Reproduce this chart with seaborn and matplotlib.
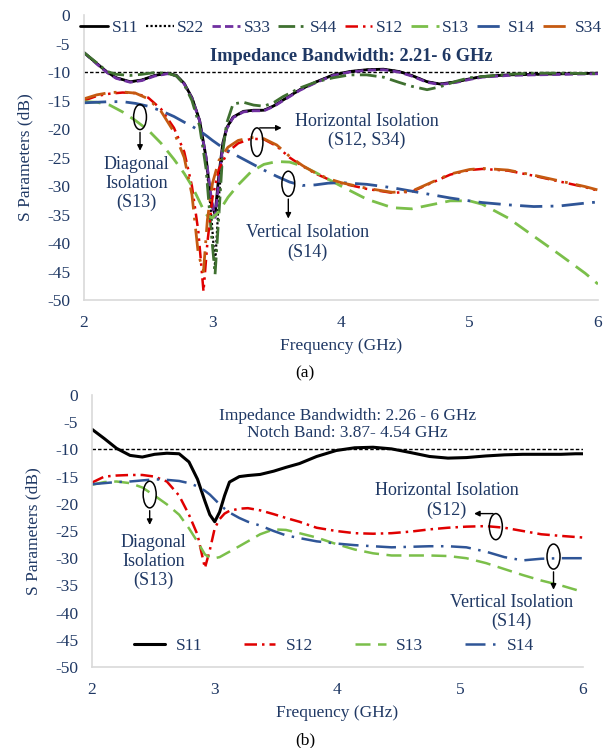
import matplotlib
matplotlib.use("Agg")
import matplotlib.pyplot as plt
from matplotlib.patches import Ellipse
import pandas as pd
import seaborn as sns

# ---------------- (a) four-port array ----------------
freq_a_refl = [2.0, 2.1, 2.18, 2.25, 2.36, 2.45, 2.55, 2.65, 2.72, 2.78, 2.84, 2.9, 2.95,
               2.99, 3.02, 3.05, 3.08, 3.11, 3.16, 3.24, 3.32, 3.4, 3.48, 3.55, 3.68, 3.81,
               3.94, 4.07, 4.2, 4.33, 4.45, 4.55, 4.67, 4.77, 4.9, 5.0, 5.1, 5.3, 5.5, 5.75, 6.0]
s11_a = [-6.6, -8.5, -10.0, -11.0, -11.7, -11.4, -10.6, -10.2, -10.6, -12.0, -14.5, -18.5, -25.0,
         -33.0, -35.0, -28.0, -22.5, -19.8, -17.9, -16.9, -16.7, -16.7, -15.9, -14.9, -13.1, -11.7,
         -10.5, -9.9, -9.6, -9.5, -9.9, -10.6, -11.7, -12.1, -11.7, -11.2, -10.8, -10.5, -10.4, -10.3, -10.2]
s22_a = [-6.6, -8.5, -10.0, -11.0, -11.7, -11.4, -10.6, -10.2, -10.6, -12.0, -14.5, -18.5, -25.5,
         -35.0, -44.0, -32.0, -23.5, -20.0, -18.0, -17.0, -16.7, -16.7, -15.9, -14.9, -13.1, -11.7,
         -10.5, -9.9, -9.6, -9.5, -9.9, -10.6, -11.7, -12.1, -11.7, -11.2, -10.8, -10.5, -10.4, -10.3, -10.2]
s33_a = [-6.6, -8.6, -10.1, -11.1, -11.8, -11.5, -10.7, -10.3, -10.7, -12.1, -14.6, -18.6, -25.0,
         -32.0, -35.5, -29.0, -23.0, -20.0, -18.0, -17.0, -16.8, -16.8, -16.0, -15.0, -13.2, -11.8,
         -10.6, -10.0, -9.7, -9.6, -10.0, -10.7, -11.8, -12.2, -11.8, -11.3, -10.9, -10.6, -10.5, -10.4, -10.3]
s44_a = [-6.6, -8.4, -9.9, -10.4, -10.6, -10.4, -10.1, -10.2, -10.7, -12.2, -15.0, -19.5, -27.0,
         -38.0, -45.5, -35.0, -24.0, -19.0, -15.6, -15.3, -15.8, -16.0, -15.3, -14.3, -12.8, -11.7,
         -11.0, -10.5, -10.5, -10.9, -11.8, -12.5, -13.1, -12.6, -11.6, -11.0, -10.8, -10.4, -10.2, -10.2, -10.3]

freq_a_iso = [2.0, 2.1, 2.2, 2.3, 2.4, 2.5, 2.6, 2.7, 2.78, 2.84, 2.89, 2.93, 2.96, 3.0, 3.05,
              3.12, 3.2, 3.3, 3.4, 3.5, 3.6, 3.7, 3.8, 3.9, 4.0, 4.2, 4.4, 4.55, 4.7, 4.85, 5.0,
              5.1, 5.3, 5.5, 5.7, 5.9, 6.0]
s12_a = [-15.0, -14.2, -13.8, -13.6, -13.7, -14.5, -16.5, -19.8, -24.0, -30.0, -38.0, -48.5, -40.0,
         -32.0, -27.0, -24.0, -22.5, -21.7, -21.8, -23.0, -25.0, -26.5, -27.8, -28.8, -29.5, -30.5,
         -31.2, -31.0, -29.5, -28.0, -27.2, -27.0, -27.3, -28.2, -29.2, -30.2, -30.8]
s34_a = [-14.7, -14.0, -13.6, -13.5, -13.7, -14.7, -16.9, -20.5, -25.0, -31.5, -42.0, -45.0, -36.0,
         -29.5, -25.5, -23.2, -22.0, -21.5, -21.7, -22.8, -24.8, -26.4, -27.7, -28.7, -29.4, -30.4,
         -31.1, -30.9, -29.4, -27.9, -27.1, -26.9, -27.2, -28.1, -29.1, -30.1, -30.7]
s13_a = [-15.2, -15.3, -15.8, -17.0, -18.5, -20.2, -22.5, -25.3, -27.8, -30.0, -32.3, -34.2, -35.2,
         -35.6, -34.5, -32.0, -29.8, -27.5, -26.2, -25.7, -25.8, -26.5, -27.6, -28.8, -30.0, -32.3,
         -33.8, -34.0, -33.3, -32.6, -32.6, -33.2, -35.6, -38.8, -42.0, -45.3, -47.2]
s14_a = [-15.4, -15.3, -15.2, -15.2, -15.5, -16.0, -16.8, -17.8, -18.8, -19.5, -20.2, -20.8, -21.3,
         -22.0, -22.8, -23.8, -24.8, -26.0, -27.2, -28.3, -29.3, -29.9, -29.8, -29.5, -29.4, -29.7,
         -30.3, -30.9, -31.5, -32.1, -32.6, -32.9, -33.3, -33.6, -33.5, -33.0, -32.8]

# ---------------- (b) notched version ----------------
freq_b = [2.0, 2.1, 2.2, 2.31, 2.41, 2.51, 2.61, 2.71, 2.79, 2.86, 2.92, 2.96, 3.0, 3.04, 3.08,
          3.12, 3.2, 3.27, 3.37, 3.48, 3.58, 3.69, 3.83, 3.99, 4.14, 4.29, 4.44, 4.6, 4.75, 4.9,
          5.05, 5.21, 5.36, 5.51, 5.66, 5.82, 5.94, 6.0]
s11_b = [-6.3, -8.0, -9.8, -11.1, -11.4, -10.9, -10.7, -10.8, -12.3, -15.5, -19.5, -22.0, -23.3,
         -21.5, -18.5, -16.0, -15.0, -14.8, -14.6, -14.0, -13.3, -12.6, -11.3, -10.2, -9.7, -9.6,
         -9.9, -10.6, -11.3, -11.6, -11.5, -11.2, -11.0, -10.9, -10.9, -10.9, -10.8, -10.8]
s12_b = [-16.1, -15.0, -14.8, -14.7, -14.7, -15.0, -15.9, -18.5, -22.0, -25.7, -31.8, -28.5, -24.5,
         -22.8, -21.8, -21.3, -20.9, -20.8, -21.2, -21.9, -22.6, -23.3, -24.4, -25.0, -25.4, -25.5,
         -25.4, -25.1, -24.7, -24.4, -24.2, -24.1, -24.4, -25.0, -25.6, -25.9, -26.1, -26.2]
s13_b = [-16.5, -16.0, -15.9, -16.2, -17.0, -18.5, -20.1, -22.0, -24.5, -27.0, -29.3, -29.9, -30.0,
         -29.8, -29.3, -28.8, -27.8, -26.9, -25.6, -24.7, -24.8, -25.4, -26.2, -27.4, -28.4, -29.1,
         -29.5, -29.5, -29.5, -29.6, -30.0, -30.9, -32.0, -33.1, -34.1, -35.0, -35.8, -36.2]
s14_b = [-16.4, -16.2, -16.0, -15.9, -15.7, -15.5, -15.6, -15.8, -16.2, -16.8, -17.6, -18.3, -19.2,
         -20.1, -20.9, -21.6, -22.6, -23.3, -24.0, -25.0, -25.8, -26.3, -26.9, -27.3, -27.6, -27.8,
         -28.0, -27.9, -27.8, -27.8, -28.0, -28.8, -29.8, -30.4, -30.1, -30.0, -30.0, -30.0]

x_ticks = [2, 3, 4, 5, 6]
y_ticks = [0, -5, -10, -15, -20, -25, -30, -35, -40, -45, -50]

NAVY = "#1F3864"
GRID = "#D9D9D9"

sns.set_style("white")
plt.rcParams["font.family"] = ["Liberation Serif", "DejaVu Serif"]
plt.rcParams["axes.unicode_minus"] = False
FS = 12.5

fig = plt.figure(figsize=(6.10, 7.48), dpi=100)
ax_a = fig.add_axes([0.1377, 0.5989, 0.8426, 0.381])
ax_b = fig.add_axes([0.1508, 0.1083, 0.8049, 0.3636])

def draw(ax, freq, vals, name, color, ls, lw=1.9):
    df = pd.DataFrame({"Frequency (GHz)": freq, "S (dB)": vals})
    sns.lineplot(data=df, x="Frequency (GHz)", y="S (dB)", ax=ax, color=color,
                 linestyle=ls, linewidth=lw, label=name, legend=False)

# ---- panel (a) ----
styles_a = [
    (freq_a_refl, s11_a, "S11", "black", "-", 2.0),
    (freq_a_refl, s22_a, "S22", "black", (0, (1, 1)), 1.6),
    (freq_a_refl, s33_a, "S33", "#7030A0", (0, (3, 1.5)), 2.0),
    (freq_a_refl, s44_a, "S44", "#3F7030", (0, (6, 2, 1, 2)), 2.0),
    (freq_a_iso, s12_a, "S12", "#E00000", (0, (5, 2, 1, 2, 1, 2)), 1.8),
    (freq_a_iso, s13_a, "S13", "#7BBF4A", (0, (6, 3)), 2.0),
    (freq_a_iso, s14_a, "S14", "#2F5597", (0, (8, 3, 1, 3)), 2.0),
    (freq_a_iso, s34_a, "S34", "#C55A11", (0, (8, 3, 1, 3)), 2.0),
]
for f, v, n, c, ls, lw in styles_a:
    draw(ax_a, f, v, n, c, ls, lw)

# ---- panel (b) ----
styles_b = [
    (freq_b, s11_b, "S11", "black", "-", 2.2),
    (freq_b, s12_b, "S12", "#E00000", (0, (5, 2, 1, 2)), 1.8),
    (freq_b, s13_b, "S13", "#7BBF4A", (0, (6, 3)), 1.8),
    (freq_b, s14_b, "S14", "#2F5597", (0, (8, 3, 1, 3)), 1.8),
]
for f, v, n, c, ls, lw in styles_b:
    draw(ax_b, f, v, n, c, ls, lw)

for ax in (ax_a, ax_b):
    ax.set_xlim(2, 6)
    ax.set_ylim(-50, 0)
    ax.set_xticks(x_ticks)
    ax.set_yticks(y_ticks)
    ax.tick_params(axis="x", length=0, labelsize=FS, labelcolor=NAVY, pad=11)
    ax.tick_params(axis="y", length=0, labelsize=FS, labelcolor=NAVY, pad=10)
    for s in ("top", "right"):
        ax.spines[s].set_visible(False)
    for s in ("left", "bottom"):
        ax.spines[s].set_color(GRID)
        ax.spines[s].set_linewidth(1.2)
    ax.set_xlabel("Frequency (GHz)", fontsize=FS, color=NAVY, labelpad=5)
    ax.set_ylabel("S Parameters (dB)", fontsize=FS, color=NAVY, labelpad=10)
    ax.axhline(-10, color="black", linestyle=(0, (2.5, 1.5)), linewidth=1.0, zorder=1)

ax_a.legend(loc="center", bbox_to_anchor=(0.5, 0.955), ncol=8, frameon=False,
            fontsize=FS, handlelength=1.6, handletextpad=0.2, columnspacing=0.45,
            labelcolor=NAVY)
ax_b.legend(loc="center", bbox_to_anchor=(0.493, 0.077), ncol=4, frameon=False,
            fontsize=FS, handlelength=1.8, handletextpad=0.6, columnspacing=2.4,
            labelcolor=NAVY)

ax_a.text(4.08, -7.3, "Impedance Bandwidth: 2.21- 6 GHz", ha="center", va="center",
          fontsize=13.2, fontweight="bold", color=NAVY)
ax_b.text(4.08, -5.4, "Impedance Bandwidth: 2.26 - 6 GHz\nNotch Band: 3.87- 4.54 GHz",
          ha="center", va="center", fontsize=FS, color=NAVY, linespacing=1.1)

def marker(ax, xc, yc, w, h):
    ax.add_patch(Ellipse((xc, yc), w, h, fill=False, edgecolor="black", linewidth=1.1, zorder=5))

arrow = dict(arrowstyle="-|>", color="black", lw=1.0, mutation_scale=8)
tfs = 13

# annotations (a)
marker(ax_a, 2.436, -17.9, 0.1, 4.4)
ax_a.annotate("", xy=(2.436, -24.3), xytext=(2.436, -20.1), arrowprops=arrow)
ax_a.text(2.41, -29.6, "Diagonal\nIsolation\n(S13)", ha="center", va="center",
          fontsize=tfs, color=NAVY, linespacing=1.15)
marker(ax_a, 3.346, -22.3, 0.093, 5.0)
ax_a.annotate("", xy=(3.56, -19.8), xytext=(3.346, -19.8), arrowprops=arrow)
ax_a.text(4.2, -20.4, "Horizontal Isolation\n(S12, S34)", ha="center", va="center",
          fontsize=tfs, color=NAVY, linespacing=1.15)
marker(ax_a, 3.59, -29.6, 0.1, 4.4)
ax_a.annotate("", xy=(3.59, -36.2), xytext=(3.59, -31.8), arrowprops=arrow)
ax_a.text(3.74, -39.9, "Vertical Isolation\n(S14)", ha="center", va="center",
          fontsize=tfs, color=NAVY, linespacing=1.15)

# annotations (b)
marker(ax_b, 2.47, -18.3, 0.106, 4.9)
ax_b.annotate("", xy=(2.47, -24.4), xytext=(2.47, -20.75), arrowprops=arrow)
ax_b.text(2.50, -30.6, "Diagonal\nIsolation\n(S13)", ha="center", va="center",
          fontsize=tfs, color=NAVY, linespacing=1.15)
marker(ax_b, 5.29, -24.2, 0.106, 4.8)
ax_b.annotate("", xy=(5.09, -21.8), xytext=(5.29, -21.8), arrowprops=arrow)
ax_b.text(4.89, -19.4, "Horizontal Isolation\n(S12)", ha="center", va="center",
          fontsize=tfs, color=NAVY, linespacing=1.15)
marker(ax_b, 5.76, -29.7, 0.106, 4.6)
ax_b.annotate("", xy=(5.76, -36.3), xytext=(5.76, -32.0), arrowprops=arrow)
ax_b.text(5.42, -39.9, "Vertical Isolation\n(S14)", ha="center", va="center",
          fontsize=tfs, color=NAVY, linespacing=1.1)

fig.text(305 / 610, 1 - 373 / 748, "(a)", ha="center", va="center", fontsize=FS, color="black")
fig.text(305 / 610, 1 - 740 / 748, "(b)", ha="center", va="center", fontsize=FS, color="black")

fig.savefig("out.png", dpi=100)
